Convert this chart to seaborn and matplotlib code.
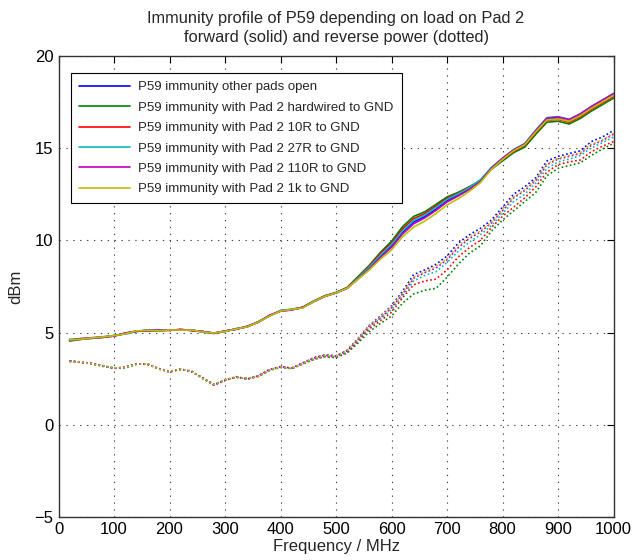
import numpy as np
import pandas as pd
import seaborn as sns
import matplotlib.pyplot as plt

# frequency grid (MHz)
freq = list(range(20, 1001, 20))

labels = [
    'P59 immunity other pads open',
    'P59 immunity with Pad 2 hardwired to GND',
    'P59 immunity with Pad 2 10R to GND',
    'P59 immunity with Pad 2 27R to GND',
    'P59 immunity with Pad 2 110R to GND',
    'P59 immunity with Pad 2 1k to GND',
]

# forward power (solid), dBm
fwd_open = [4.60, 4.66, 4.70, 4.76, 4.83, 4.96, 5.08, 5.12, 5.11, 5.14, 5.16, 5.13, 5.05, 4.97, 5.08, 5.20, 5.33, 5.58, 5.92, 6.18,
            6.25, 6.36, 6.70, 6.98, 7.16, 7.42, 7.95, 8.50, 9.15, 9.70, 10.45, 11.00, 11.30, 11.70, 12.15, 12.45, 12.80, 13.20, 13.90, 14.40,
            14.85, 15.20, 15.90, 16.55, 16.60, 16.45, 16.75, 17.15, 17.50, 17.85]
fwd_gnd = [4.55, 4.63, 4.72, 4.74, 4.85, 4.93, 5.06, 5.15, 5.09, 5.16, 5.14, 5.15, 5.03, 4.99, 5.06, 5.22, 5.31, 5.60, 5.90, 6.20,
           6.27, 6.38, 6.72, 7.00, 7.18, 7.45, 8.05, 8.65, 9.35, 9.95, 10.75, 11.30, 11.55, 11.95, 12.35, 12.60, 12.90, 13.25, 13.85, 14.30,
           14.75, 15.05, 15.75, 16.40, 16.45, 16.30, 16.60, 17.00, 17.35, 17.70]
fwd_10r = [4.62, 4.68, 4.69, 4.78, 4.81, 4.97, 5.09, 5.10, 5.13, 5.12, 5.18, 5.12, 5.06, 4.96, 5.09, 5.19, 5.34, 5.57, 5.93, 6.17,
           6.24, 6.37, 6.69, 6.99, 7.15, 7.43, 8.00, 8.60, 9.28, 9.85, 10.62, 11.18, 11.45, 11.85, 12.28, 12.55, 12.88, 13.22, 13.90, 14.38,
           14.82, 15.15, 15.85, 16.50, 16.55, 16.40, 16.70, 17.10, 17.45, 17.80]
fwd_27r = [4.64, 4.65, 4.71, 4.77, 4.84, 4.95, 5.07, 5.13, 5.12, 5.15, 5.15, 5.14, 5.04, 4.98, 5.07, 5.21, 5.32, 5.59, 5.91, 6.19,
           6.26, 6.35, 6.71, 6.97, 7.17, 7.41, 7.98, 8.55, 9.20, 9.78, 10.52, 11.08, 11.37, 11.78, 12.22, 12.52, 12.85, 13.28, 13.95, 14.45,
           14.92, 15.25, 15.98, 16.65, 16.70, 16.55, 16.85, 17.25, 17.60, 17.95]
fwd_110r = [4.58, 4.67, 4.73, 4.75, 4.82, 4.98, 5.07, 5.11, 5.14, 5.13, 5.17, 5.11, 5.07, 4.96, 5.10, 5.18, 5.35, 5.56, 5.94, 6.16,
            6.23, 6.37, 6.68, 6.96, 7.15, 7.40, 7.92, 8.45, 9.08, 9.62, 10.35, 10.90, 11.22, 11.62, 12.08, 12.40, 12.75, 13.18, 13.92, 14.45,
            14.90, 15.22, 15.95, 16.62, 16.68, 16.55, 16.85, 17.25, 17.60, 17.95]
fwd_1k = [4.61, 4.64, 4.72, 4.77, 4.84, 4.94, 5.09, 5.13, 5.10, 5.15, 5.14, 5.14, 5.04, 4.98, 5.07, 5.20, 5.32, 5.57, 5.90, 6.17,
          6.26, 6.34, 6.69, 6.97, 7.15, 7.41, 7.90, 8.40, 8.98, 9.48, 10.20, 10.72, 11.05, 11.45, 11.92, 12.25, 12.65, 13.12, 13.85, 14.38,
          14.85, 15.18, 15.88, 16.52, 16.58, 16.45, 16.75, 17.15, 17.50, 17.85]

# reverse power (dotted), dBm
rev_open = [3.46, 3.40, 3.32, 3.20, 3.08, 3.12, 3.30, 3.30, 3.05, 2.88, 3.02, 2.90, 2.52, 2.18, 2.43, 2.60, 2.50, 2.65, 3.00, 3.15,
            3.08, 3.35, 3.65, 3.80, 3.75, 4.05, 4.70, 5.40, 5.90, 6.45, 7.25, 8.15, 8.40, 8.70, 9.15, 9.85, 10.30, 10.65, 11.10, 11.80,
            12.50, 12.90, 13.40, 14.30, 14.55, 14.70, 14.85, 15.35, 15.60, 15.95]
rev_gnd = [3.44, 3.42, 3.30, 3.18, 3.10, 3.10, 3.28, 3.32, 3.03, 2.90, 3.00, 2.92, 2.55, 2.20, 2.45, 2.58, 2.52, 2.62, 2.95, 3.12,
           3.05, 3.30, 3.55, 3.70, 3.65, 3.90, 4.45, 5.05, 5.50, 5.90, 6.60, 7.10, 7.30, 7.40, 8.00, 8.70, 9.30, 9.70, 10.50, 11.10,
           11.60, 12.10, 12.60, 13.50, 13.90, 14.05, 14.20, 14.60, 14.95, 15.25]
rev_10r = [3.47, 3.38, 3.33, 3.21, 3.07, 3.13, 3.31, 3.28, 3.06, 2.87, 3.03, 2.89, 2.53, 2.17, 2.42, 2.61, 2.49, 2.64, 2.97, 3.13,
           3.06, 3.32, 3.58, 3.72, 3.68, 3.95, 4.55, 5.20, 5.65, 6.10, 6.90, 7.60, 7.80, 7.90, 8.40, 9.10, 9.60, 10.00, 10.70, 11.30,
           11.80, 12.30, 12.90, 13.70, 14.10, 14.25, 14.35, 14.80, 15.10, 15.35]
rev_27r = [3.45, 3.41, 3.31, 3.19, 3.09, 3.11, 3.29, 3.31, 3.04, 2.89, 3.01, 2.91, 2.51, 2.19, 2.44, 2.59, 2.51, 2.66, 2.98, 3.14,
           3.07, 3.33, 3.60, 3.76, 3.70, 3.98, 4.60, 5.30, 5.75, 6.25, 7.00, 7.80, 8.10, 8.30, 8.80, 9.40, 9.90, 10.30, 10.80, 11.45,
           12.10, 12.50, 13.10, 13.90, 14.25, 14.40, 14.60, 15.00, 15.30, 15.60]
rev_110r = [3.48, 3.39, 3.34, 3.22, 3.06, 3.14, 3.32, 3.29, 3.07, 2.86, 3.04, 2.88, 2.54, 2.16, 2.41, 2.62, 2.48, 2.67, 3.01, 3.16,
            3.09, 3.36, 3.63, 3.78, 3.73, 4.02, 4.65, 5.35, 5.80, 6.35, 7.10, 7.95, 8.25, 8.50, 8.95, 9.60, 10.10, 10.45, 10.95, 11.60,
            12.30, 12.70, 13.25, 14.10, 14.40, 14.55, 14.70, 15.15, 15.40, 15.75]
rev_1k = [3.43, 3.41, 3.31, 3.21, 3.09, 3.12, 3.29, 3.31, 3.04, 2.89, 3.03, 2.90, 2.52, 2.19, 2.44, 2.60, 2.51, 2.64, 2.99, 3.14,
          3.08, 3.34, 3.62, 3.79, 3.74, 4.03, 4.68, 5.38, 5.85, 6.40, 7.15, 8.00, 8.30, 8.60, 9.00, 9.70, 10.20, 10.50, 11.00, 11.65,
          12.35, 12.75, 13.30, 14.15, 14.45, 14.60, 14.75, 15.20, 15.45, 15.80]

forward = [fwd_open, fwd_gnd, fwd_10r, fwd_27r, fwd_110r, fwd_1k]
reverse = [rev_open, rev_gnd, rev_10r, rev_27r, rev_110r, rev_1k]

# MATLAB style default line colours b, g, r, c, m, y
colors = ['#0000ff', '#008000', '#ff0000', '#00bfbf', '#bf00bf', '#bfbf00']

sns.set_style('white')
plt.rcParams['font.family'] = ['Liberation Sans', 'DejaVu Sans']

fig = plt.figure(figsize=(6.32, 5.6), dpi=100)
ax = fig.add_axes([0.0926, 0.0762, 0.8782, 0.8243])

for lab, col, fw, rv in zip(labels, colors, forward, reverse):
    df = pd.DataFrame({'freq': freq, 'fwd': fw, 'rev': rv})
    sns.lineplot(x='freq', y='fwd', data=df, color=col, linewidth=1.2, label=lab, ax=ax)
    sns.lineplot(x='freq', y='rev', data=df, color=col, linewidth=1.2, linestyle=(0, (1, 1.5)), legend=False, ax=ax)

ax.set_xlim(0, 1000)
ax.set_ylim(-5, 20)
ax.set_xticks(np.arange(0, 1001, 100))
ax.set_yticks(np.arange(-5, 21, 5))
ax.grid(True, linestyle=(0, (1.2, 5)), color='#444444', linewidth=0.8)
ax.tick_params(direction='in', top=True, right=True, length=5, width=0.8, labelsize=12, colors='black')
for sp in ax.spines.values():
    sp.set_color('#333333')
    sp.set_linewidth(1.0)

ax.set_xlabel('Frequency / MHz', fontsize=12, labelpad=1)
ax.set_ylabel('dBm', fontsize=12, labelpad=8)
ax.set_title('Immunity profile of P59 depending on load on Pad 2\nforward (solid) and reverse power (dotted)',
             fontsize=11.8, pad=10, linespacing=1.3)

leg = ax.legend(loc='upper left', bbox_to_anchor=(0.0225, 0.962), borderaxespad=0, fontsize=9.5,
                handlelength=3.9, labelspacing=0.62, frameon=True, fancybox=False, framealpha=1,
                edgecolor='black', borderpad=0.6, handletextpad=0.6)
leg.get_frame().set_linewidth(0.8)

plt.savefig('out.png', dpi=100)
